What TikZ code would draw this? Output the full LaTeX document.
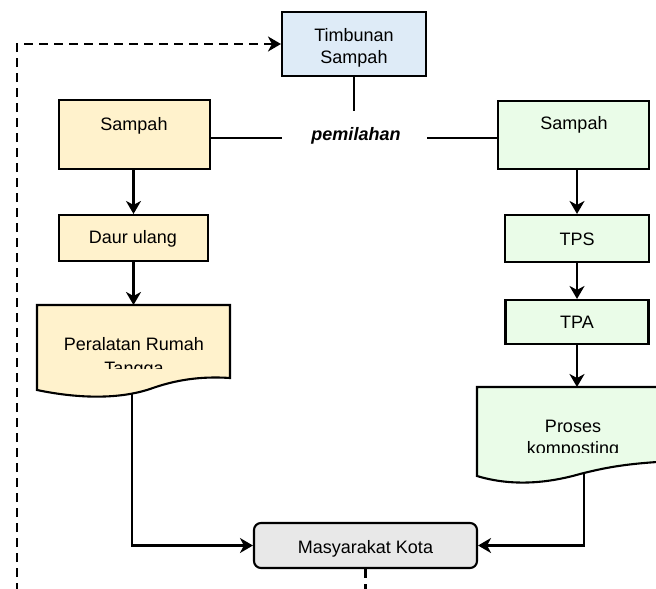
\documentclass[tikz,border=0pt]{standalone}
\usepackage{fontspec}
\setmainfont{Liberation Sans}
\usetikzlibrary{arrows.meta}
\definecolor{cblue}{HTML}{DEEBF7}
\definecolor{cyel}{HTML}{FFF2CC}
\definecolor{cgrn}{HTML}{EAFCE8}
\definecolor{cgry}{HTML}{E8E8E8}
\begin{document}
\begin{tikzpicture}[x=1pt,y=-1pt,
  font=\fontsize{18}{22}\selectfont,
  box/.style={draw, line width=2.1pt, inner sep=0pt},
  txt/.style={anchor=base, inner sep=0pt},
  conn/.style={line width=2.3pt},
  tip/.style={-{Stealth[length=13pt,width=15pt,inset=4pt]}},
  arr/.style={conn, tip},
  dsh/.style={conn, dash pattern=on 9pt off 6pt}]
\useasboundingbox (0,0) rectangle (656,589);
\clip (0,0) rectangle (656,589);

% boxes
\node[box, fill=cblue, minimum width=144pt, minimum height=64pt] (timb) at (354,44) {};
\node[txt] (timbt1) at (354,41) {Timbunan};
\node[txt] (timbt2) at (354,63) {Sampah};

\node[box, fill=cyel, minimum width=151pt, minimum height=69pt] (sL) at (134.5,134.5) {};
\node[txt] (sLt) at (134,130) {Sampah};

\node[box, fill=cgrn, minimum width=151pt, minimum height=68pt] (sR) at (573.5,135) {};
\node[txt] (sRt) at (574,129) {Sampah};

\node[minimum width=145pt, minimum height=52pt, inner sep=0pt] (pem) at (354.5,137) {};
\node[txt, font=\fontsize{18}{22}\selectfont\bfseries\itshape] (pemt) at (356,140) {pemilahan};

\node[box, fill=cyel, minimum width=149pt, minimum height=46pt] (daur) at (133.5,238) {};
\node[txt] (daurt) at (133,243) {Daur ulang};

\node[box, fill=cgrn, minimum width=144pt, minimum height=47pt] (tps) at (577,238.5) {};
\node[txt] (tpst) at (577,245) {TPS};

\node[box, fill=cgrn, minimum width=143pt, minimum height=44pt] (tpa) at (577,322) {};
\node[txt] (tpat) at (577,328) {TPA};

% document shapes
\draw[box, fill=cyel] (37,305) -- (230,305) -- (230,378)
  .. controls (200,376) and (175,380) .. (150,389)
  .. controls (120,399) and (80,399) .. (37,390) -- cycle;
\node[txt] (peralt1) at (134,350) {Peralatan Rumah};
\begin{scope}
  \clip (37,305) rectangle (230,368);
  \node[txt] (peralt2) at (134,374) {Tangga};
\end{scope}
\coordinate (peralT) at (133.5,305);
\coordinate (peralB) at (132,393);

\draw[box, fill=cgrn] (700,387) -- (477,387) -- (477,476)
  .. controls (510,486) and (545,484) .. (580,474)
  .. controls (615,465) and (640,462) .. (700,460) -- cycle;
\node[txt] (prost1) at (573,432) {Proses};
\begin{scope}
  \clip (477,387) rectangle (656,452);
  \node[txt] (prost2) at (573,454) {komposting};
\end{scope}
\coordinate (prosT) at (577,387);
\coordinate (prosB) at (584,474);

\node[box, fill=cgry, rounded corners=7pt, minimum width=223pt, minimum height=45pt] (mas) at (365.5,545.5) {};
\node[txt] (mast) at (365.5,553) {Masyarakat Kota};

% connectors
\draw[conn] (timb.south) -- (timb.south |- pem.north);
\draw[conn] (sL.east |- 0,138) -- (pem.west |- 0,138);
\draw[conn] (pem.east |- 0,138) -- (sR.west |- 0,138);

\draw[arr] (sL.south -| daur.north) -- (daur.north);
\draw[arr] (daur.south) -- (daur.south |- peralT);
\draw[arr] (sR.south -| tps.north) -- (tps.north);
\draw[arr] (tps.south) -- (tpa.north);
\draw[arr] (tpa.south) -- (prosT);

\draw[arr] (peralB) |- (mas.west);
\draw[arr] (prosB) |- (mas.east);

\coordinate (dashB) at (17,592);
\draw[dsh, tip] (dashB) |- (timb.west);
\draw[dsh] (mas.south) -- (mas.south |- dashB);
\end{tikzpicture}
\end{document}
